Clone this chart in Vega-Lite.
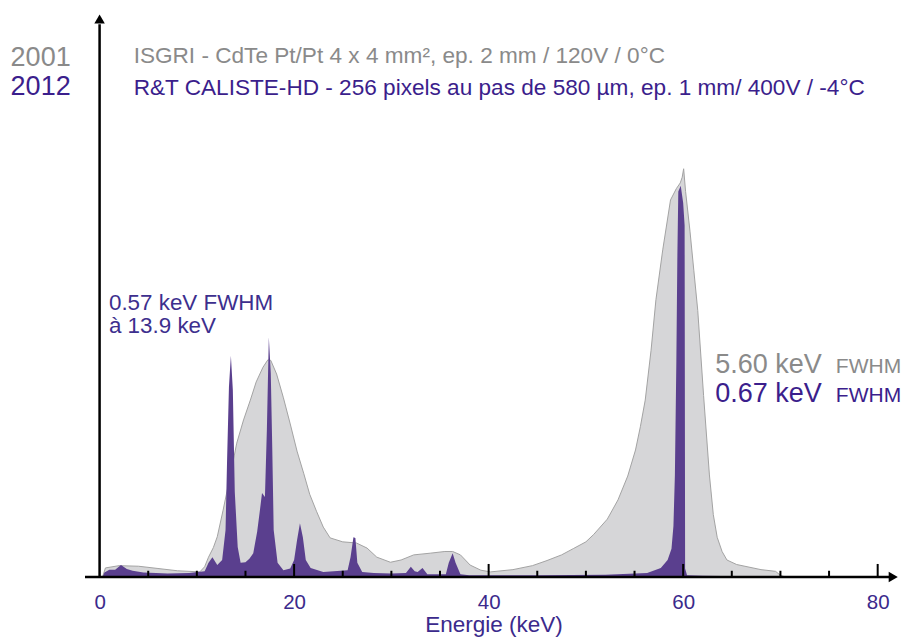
{
  "$schema": "https://vega.github.io/schema/vega-lite/v6.json",
  "width": 817,
  "height": 567,
  "autosize": {"type": "none"},
  "padding": {"left": 85, "top": 10, "right": 15, "bottom": 61},
  "background": "white",
  "config": {"view": {"stroke": null}, "font": "Liberation Sans"},
  "data": {"values": [{}]},
  "datasets": {
    "isgri": [
      {"keV": 0.3, "counts": 0}, {"keV": 0.6, "counts": 1.6}, {"keV": 2, "counts": 2.0}, {"keV": 4, "counts": 1.9},
      {"keV": 6, "counts": 1.5}, {"keV": 8, "counts": 1.1}, {"keV": 10.3, "counts": 0.9}, {"keV": 10.8, "counts": 1.8},
      {"keV": 11.2, "counts": 3.5}, {"keV": 11.7, "counts": 5.2}, {"keV": 12.1, "counts": 7.1}, {"keV": 12.7, "counts": 11.8},
      {"keV": 13.4, "counts": 17.6}, {"keV": 14.1, "counts": 23.6}, {"keV": 14.8, "counts": 27.7}, {"keV": 15.5, "counts": 31.2},
      {"keV": 16.1, "counts": 34.4}, {"keV": 16.8, "counts": 37.0}, {"keV": 17.3, "counts": 38.3}, {"keV": 17.6, "counts": 38.2},
      {"keV": 18.2, "counts": 35.8}, {"keV": 18.9, "counts": 31.6}, {"keV": 19.6, "counts": 27.0}, {"keV": 20.3, "counts": 22.2},
      {"keV": 21.0, "counts": 18.2}, {"keV": 21.6, "counts": 14.6}, {"keV": 22.3, "counts": 11.6}, {"keV": 23.0, "counts": 8.8},
      {"keV": 23.7, "counts": 6.9}, {"keV": 25.0, "counts": 6.2}, {"keV": 26.4, "counts": 6.0}, {"keV": 27.5, "counts": 5.1},
      {"keV": 28.5, "counts": 3.5}, {"keV": 29.9, "counts": 2.6}, {"keV": 31.0, "counts": 3.0}, {"keV": 32.3, "counts": 3.9},
      {"keV": 34.0, "counts": 4.2}, {"keV": 35.5, "counts": 4.5}, {"keV": 36.3, "counts": 4.5}, {"keV": 37.1, "counts": 3.9},
      {"keV": 38.1, "counts": 2.1}, {"keV": 39.2, "counts": 1.2}, {"keV": 40.2, "counts": 0.9}, {"keV": 42.5, "counts": 1.3},
      {"keV": 44.5, "counts": 2.0}, {"keV": 46, "counts": 2.9}, {"keV": 47.5, "counts": 3.9}, {"keV": 48.7, "counts": 5.0},
      {"keV": 50, "counts": 6.2}, {"keV": 50.8, "counts": 7.5}, {"keV": 52.2, "counts": 10.2}, {"keV": 53.3, "counts": 13.6},
      {"keV": 54.3, "counts": 17.8}, {"keV": 55.1, "counts": 22.4}, {"keV": 55.6, "counts": 26.5}, {"keV": 56.1, "counts": 31.2},
      {"keV": 56.7, "counts": 40}, {"keV": 57.2, "counts": 48.9}, {"keV": 57.9, "counts": 57.7}, {"keV": 58.7, "counts": 66.5},
      {"keV": 59.3, "counts": 68.5}, {"keV": 59.7, "counts": 69.5}, {"keV": 59.9, "counts": 70.5},
      {"keV": 60.05, "counts": 72}, {"keV": 60.25, "counts": 68}, {"keV": 60.7, "counts": 61}, {"keV": 61.1, "counts": 54},
      {"keV": 61.5, "counts": 47}, {"keV": 62.1, "counts": 32}, {"keV": 62.7, "counts": 18}, {"keV": 63.1, "counts": 11},
      {"keV": 63.5, "counts": 7}, {"keV": 64.0, "counts": 4.5}, {"keV": 64.5, "counts": 3}, {"keV": 65.5, "counts": 2.2},
      {"keV": 68, "counts": 1.3}, {"keV": 69.5, "counts": 1.0}, {"keV": 70, "counts": 0.3}, {"keV": 70.5, "counts": 0}
    ],
    "caliste": [
      {"keV": 0.3, "counts": 0}, {"keV": 0.5, "counts": 0.8}, {"keV": 1.0, "counts": 1.3}, {"keV": 1.6, "counts": 1.3},
      {"keV": 2.2, "counts": 2.1}, {"keV": 2.8, "counts": 1.4}, {"keV": 3.4, "counts": 1.1}, {"keV": 4.5, "counts": 0.8},
      {"keV": 5.8, "counts": 0.7}, {"keV": 7, "counts": 0.6}, {"keV": 9.2, "counts": 0.7}, {"keV": 10.8, "counts": 1.0},
      {"keV": 11.2, "counts": 2.5}, {"keV": 11.6, "counts": 3.5}, {"keV": 12.1, "counts": 2.1}, {"keV": 12.6, "counts": 3.0},
      {"keV": 12.95, "counts": 8.3}, {"keV": 13.1, "counts": 20}, {"keV": 13.3, "counts": 33.5}, {"keV": 13.5, "counts": 39},
      {"keV": 13.7, "counts": 33}, {"keV": 13.9, "counts": 15}, {"keV": 14.2, "counts": 5.3}, {"keV": 14.5, "counts": 2.5},
      {"keV": 15.0, "counts": 2.6}, {"keV": 15.4, "counts": 3.2}, {"keV": 15.8, "counts": 4.2}, {"keV": 16.2, "counts": 8},
      {"keV": 16.5, "counts": 12}, {"keV": 16.7, "counts": 14.8}, {"keV": 17.0, "counts": 14.1}, {"keV": 17.2, "counts": 26},
      {"keV": 17.4, "counts": 42.3}, {"keV": 17.6, "counts": 36}, {"keV": 17.75, "counts": 23}, {"keV": 17.9, "counts": 8.3},
      {"keV": 18.3, "counts": 2.5}, {"keV": 18.9, "counts": 1.2}, {"keV": 19.6, "counts": 1.5}, {"keV": 20.0, "counts": 3},
      {"keV": 20.3, "counts": 6.5}, {"keV": 20.6, "counts": 9.5}, {"keV": 20.9, "counts": 7}, {"keV": 21.2, "counts": 3},
      {"keV": 21.7, "counts": 1.6}, {"keV": 23, "counts": 0.9}, {"keV": 25.5, "counts": 1.2}, {"keV": 25.8, "counts": 3.5},
      {"keV": 26.1, "counts": 7}, {"keV": 26.3, "counts": 6.9}, {"keV": 26.5, "counts": 2.5}, {"keV": 27, "counts": 0.9},
      {"keV": 28.2, "counts": 0.7}, {"keV": 30, "counts": 0.6}, {"keV": 31.5, "counts": 0.7}, {"keV": 32.0, "counts": 1.8},
      {"keV": 32.4, "counts": 1.0}, {"keV": 32.7, "counts": 0.9}, {"keV": 33.2, "counts": 1.6}, {"keV": 33.7, "counts": 0.5},
      {"keV": 35.6, "counts": 0.5}, {"keV": 35.9, "counts": 2.5}, {"keV": 36.3, "counts": 4.2}, {"keV": 36.6, "counts": 2.5},
      {"keV": 37.1, "counts": 0.5}, {"keV": 38, "counts": 0.3}, {"keV": 45, "counts": 0.3}, {"keV": 52, "counts": 0.4},
      {"keV": 56.3, "counts": 0.7}, {"keV": 57.7, "counts": 1.6}, {"keV": 58.4, "counts": 3}, {"keV": 58.8, "counts": 5},
      {"keV": 59.0, "counts": 9}, {"keV": 59.15, "counts": 18}, {"keV": 59.3, "counts": 38}, {"keV": 59.4, "counts": 56},
      {"keV": 59.5, "counts": 68}, {"keV": 59.75, "counts": 69}, {"keV": 60.0, "counts": 66}, {"keV": 60.15, "counts": 62},
      {"keV": 60.2, "counts": 1.5}, {"keV": 60.4, "counts": 0.3}, {"keV": 62, "counts": 0.2}, {"keV": 68, "counts": 0.1},
      {"keV": 70, "counts": 0}
    ],
    "minorTicks": [{"keV": 5}, {"keV": 10}, {"keV": 15}, {"keV": 25}, {"keV": 30}, {"keV": 35}, {"keV": 45}, {"keV": 50}, {"keV": 55}, {"keV": 65}, {"keV": 70}, {"keV": 75}],
    "majorTicks": [{"keV": 20}, {"keV": 40}, {"keV": 60}, {"keV": 80}]
  },
  "layer": [
    {
      "data": {"name": "isgri"},
      "mark": {"type": "area", "color": "#d6d6d8", "opacity": 1, "line": {"color": "#a3a3a3", "strokeWidth": 1}},
      "encoding": {
        "x": {"field": "keV", "type": "quantitative", "scale": {"domain": [-1.5, 82.5], "nice": false, "zero": false},
          "axis": {"values": [0, 20, 40, 60, 80], "domain": false, "ticks": false, "grid": false, "labelFontSize": 20.5, "labelColor": "#3b2a8c", "labelPadding": 15, "labelFont": "Liberation Sans", "title": "Energie (keV)", "titleFontSize": 22.5, "titleFontWeight": "normal", "titleColor": "#3b2a8c", "titlePadding": 1, "titleFont": "Liberation Sans"}},
        "y": {"field": "counts", "type": "quantitative", "scale": {"domain": [0, 100], "nice": false}, "axis": null}
      }
    },
    {
      "data": {"name": "caliste"},
      "mark": {"type": "area", "color": "#5a3f8e", "opacity": 1},
      "encoding": {
        "x": {"field": "keV", "type": "quantitative"},
        "y": {"field": "counts", "type": "quantitative"}
      }
    },
    {
      "mark": {"type": "rule", "color": "black", "strokeWidth": 2.5},
      "encoding": {"x": {"datum": -1.5, "type": "quantitative"}, "x2": {"datum": 81.2}, "y": {"datum": 0, "type": "quantitative"}}
    },
    {
      "data": {"name": "minorTicks"},
      "mark": {"type": "rule", "color": "black", "strokeWidth": 2},
      "encoding": {"x": {"field": "keV", "type": "quantitative"}, "y": {"datum": 0, "type": "quantitative"}, "y2": {"datum": 1.1}}
    },
    {
      "data": {"name": "majorTicks"},
      "mark": {"type": "rule", "color": "black", "strokeWidth": 2},
      "encoding": {"x": {"field": "keV", "type": "quantitative"}, "y": {"datum": 0, "type": "quantitative"}, "y2": {"datum": 2.3}}
    },
    {
      "mark": {"type": "rule", "color": "black", "strokeWidth": 2.5},
      "encoding": {"x": {"datum": 0, "type": "quantitative"}, "y": {"datum": 0, "type": "quantitative"}, "y2": {"datum": 97.5}}
    },
    {
      "mark": {"type": "point", "shape": "triangle-right", "filled": true, "color": "black", "opacity": 1, "size": 110},
      "encoding": {"x": {"datum": 81.6, "type": "quantitative"}, "y": {"datum": 0, "type": "quantitative"}}
    },
    {
      "mark": {"type": "point", "shape": "triangle-up", "filled": true, "color": "black", "opacity": 1, "size": 110},
      "encoding": {"x": {"datum": 0, "type": "quantitative"}, "y": {"datum": 98.4, "type": "quantitative"}}
    },
    {
      "mark": {"type": "text", "text": "2001", "align": "left", "baseline": "alphabetic", "fontSize": 27, "color": "#8a8a8a"},
      "encoding": {"x": {"datum": -9.15, "type": "quantitative"}, "y": {"datum": 90.1, "type": "quantitative"}}
    },
    {
      "mark": {"type": "text", "text": "2012", "align": "left", "baseline": "alphabetic", "fontSize": 27, "color": "#3b1e8c"},
      "encoding": {"x": {"datum": -9.15, "type": "quantitative"}, "y": {"datum": 85.0, "type": "quantitative"}}
    },
    {
      "mark": {"type": "text", "text": "ISGRI - CdTe Pt/Pt 4 x 4 mm², ep. 2 mm / 120V / 0°C", "align": "left", "baseline": "alphabetic", "fontSize": 22.6, "color": "#8a8a8a"},
      "encoding": {"x": {"datum": 3.5, "type": "quantitative"}, "y": {"datum": 90.6, "type": "quantitative"}}
    },
    {
      "mark": {"type": "text", "text": "R&T CALISTE-HD - 256 pixels au pas de 580 µm, ep. 1 mm/ 400V / -4°C", "align": "left", "baseline": "alphabetic", "fontSize": 22.6, "color": "#3b1e8c"},
      "encoding": {"x": {"datum": 3.5, "type": "quantitative"}, "y": {"datum": 85.0, "type": "quantitative"}}
    },
    {
      "mark": {"type": "text", "text": "0.57 keV FWHM", "align": "left", "baseline": "alphabetic", "fontSize": 22.4, "color": "#3d2f8e"},
      "encoding": {"x": {"datum": 0.96, "type": "quantitative"}, "y": {"datum": 47.1, "type": "quantitative"}}
    },
    {
      "mark": {"type": "text", "text": "à 13.9 keV", "align": "left", "baseline": "alphabetic", "fontSize": 22.4, "color": "#3d2f8e"},
      "encoding": {"x": {"datum": 0.96, "type": "quantitative"}, "y": {"datum": 43.0, "type": "quantitative"}}
    },
    {
      "mark": {"type": "text", "text": "5.60 keV", "align": "left", "baseline": "alphabetic", "fontSize": 27, "color": "#8a8a8a"},
      "encoding": {"x": {"datum": 63.3, "type": "quantitative"}, "y": {"datum": 36.0, "type": "quantitative"}}
    },
    {
      "mark": {"type": "text", "text": "FWHM", "align": "left", "baseline": "alphabetic", "fontSize": 21, "color": "#8a8a8a"},
      "encoding": {"x": {"datum": 75.7, "type": "quantitative"}, "y": {"datum": 36.0, "type": "quantitative"}}
    },
    {
      "mark": {"type": "text", "text": "0.67 keV", "align": "left", "baseline": "alphabetic", "fontSize": 27, "color": "#3b1e8c"},
      "encoding": {"x": {"datum": 63.3, "type": "quantitative"}, "y": {"datum": 30.9, "type": "quantitative"}}
    },
    {
      "mark": {"type": "text", "text": "FWHM", "align": "left", "baseline": "alphabetic", "fontSize": 21, "color": "#3b1e8c"},
      "encoding": {"x": {"datum": 75.7, "type": "quantitative"}, "y": {"datum": 30.9, "type": "quantitative"}}
    }
  ]
}
